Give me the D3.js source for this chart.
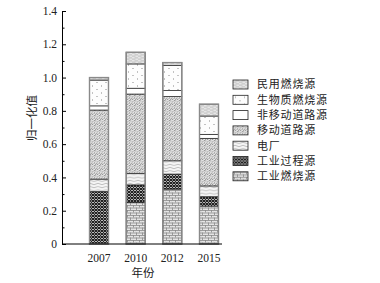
<!DOCTYPE html>
<html>
<head>
<meta charset="utf-8">
<script src="https://cdn.jsdelivr.net/npm/d3@7"></script>
<style>
  body { margin: 0; background: #fff; }
  svg { display: block; }
</style>
</head>
<body>
<div id="chart"></div>
<script>
const width = 380;
const height = 283;

// data
const years = ["2007", "2010", "2012", "2015"];
const sources = ["工业燃烧源", "工业过程源", "电厂", "移动道路源", "非移动道路源", "生物质燃烧源", "民用燃烧源"];
const industrialCombustion = [0, 0.25, 0.33, 0.228];
const industrialProcess = [0.315, 0.105, 0.09, 0.056];
const powerPlant = [0.075, 0.07, 0.08, 0.065];
const mobileRoad = [0.415, 0.476, 0.386, 0.286];
const nonRoad = [0.025, 0.035, 0.036, 0.024];
const biomass = [0.155, 0.146, 0.15, 0.11];
const residential = [0.015, 0.07, 0.018, 0.071];
const yTicks = [0, 0.2, 0.4, 0.6, 0.8, 1.0, 1.2, 1.4];

const series = [industrialCombustion, industrialProcess, powerPlant, mobileRoad, nonRoad, biomass, residential];
const table = years.map((y, i) => {
    const row = { year: y };
    sources.forEach((s, j) => row[s] = series[j][i]);
    return row;
});

const serif = "'Liberation Serif', 'DejaVu Serif', serif";
const cjk = "'Noto Sans CJK SC', sans-serif";

const svg = d3.select("#chart").append("svg")
    .attr("width", width)
    .attr("height", height)
    .attr("viewBox", [0, 0, width, height]);

// fill patterns
const defs = svg.append("defs");

function pattern(id, w, h, bg) {
    const p = defs.append("pattern")
        .attr("id", id)
        .attr("patternUnits", "userSpaceOnUse")
        .attr("width", w)
        .attr("height", h);
    p.append("rect").attr("width", w).attr("height", h).attr("fill", bg);
    return p;
}

// 工业燃烧源: light brick / cross grid
let p = pattern("p0", 6, 5, "#e6e6e6");
p.append("path").attr("d", "M0,0.5H6M0,3H6M1.5,0V2.5M4.5,2.5V5").attr("stroke", "#888").attr("stroke-width", 0.8);
p.append("path").attr("d", "M3,1.75h0.1M0,4h0.1").attr("stroke", "#666").attr("stroke-width", 1);

// 工业过程源: dark checker
p = pattern("p1", 3, 3, "#fff");
p.append("path").attr("d", "M0,0L3,3M3,0L0,3").attr("stroke", "#1a1a1a").attr("stroke-width", 1.2);

// 电厂: wavy lines
p = pattern("p2", 8, 3.2, "#f4f4f4");
p.append("path").attr("d", "M0,1.6Q2,0.4 4,1.6T8,1.6").attr("fill", "none").attr("stroke", "#9a9a9a").attr("stroke-width", 0.6);

// 移动道路源: dense stipple
p = pattern("p3", 5, 5, "#d6d6d6");
[[0.5, 0.5], [2.5, 1.5], [4, 0.2], [1.2, 2.8], [3.6, 3.2], [0.2, 4.3], [2.2, 4.2], [4.5, 2]].forEach(([x, y]) =>
    p.append("rect").attr("x", x).attr("y", y).attr("width", 0.8).attr("height", 0.8).attr("fill", "#777"));
[[1.6, 0.2], [3.2, 2.4], [0.6, 1.8], [4.2, 4.3]].forEach(([x, y]) =>
    p.append("rect").attr("x", x).attr("y", y).attr("width", 0.8).attr("height", 0.8).attr("fill", "#fff"));

// 非移动道路源: plain white
pattern("p4", 4, 4, "#fff");

// 生物质燃烧源: sparse dots
p = pattern("p5", 9, 7, "#fdfdfd");
p.append("rect").attr("x", 2).attr("y", 1.5).attr("width", 1).attr("height", 1).attr("fill", "#888");
p.append("rect").attr("x", 6.5).attr("y", 5).attr("width", 1).attr("height", 1).attr("fill", "#888");

// 民用燃烧源: gray with horizontal dashes
p = pattern("p6", 6, 3, "#cfcfcf");
p.append("path").attr("d", "M0,0.75H2.5M3.5,2.25H6").attr("stroke", "#f2f2f2").attr("stroke-width", 0.9);

const fills = sources.map((s, i) => `url(#p${i})`);

const x = d3.scaleBand()
    .domain(years)
    .range([62, 246])
    .paddingInner(0.482)
    .paddingOuter(0.75);

const y = d3.scaleLinear()
    .domain([0, 1.4])
    .range([244, 11]);

const stacked = d3.stack().keys(sources)(table);

const layer = svg.append("g")
    .selectAll("g")
    .data(stacked)
    .join("g")
    .attr("fill", (d, i) => fills[i]);

layer.selectAll("rect")
    .data(d => d.filter(v => v[1] - v[0] > 0))
    .join("rect")
    .attr("x", d => x(d.data.year))
    .attr("y", d => y(d[1]))
    .attr("width", x.bandwidth())
    .attr("height", d => y(d[0]) - y(d[1]))
    .attr("stroke", "#222")
    .attr("stroke-width", 0.7);

// bar outlines
svg.append("g")
    .selectAll("rect")
    .data(table)
    .join("rect")
    .attr("x", d => x(d.year))
    .attr("y", d => y(d3.sum(sources, s => d[s])))
    .attr("width", x.bandwidth())
    .attr("height", d => y(0) - y(d3.sum(sources, s => d[s])))
    .attr("fill", "none")
    .attr("stroke", "#8a8a8a")
    .attr("stroke-width", 1.4);

// y axis, ticks inward
const yAxis = svg.append("g")
    .attr("transform", "translate(62,0)")
    .call(d3.axisLeft(y)
        .tickValues(yTicks)
        .tickSizeInner(-4)
        .tickSizeOuter(0)
        .tickPadding(5)
        .tickFormat(d => d === 0 ? "0" : d3.format(".1f")(d)));
yAxis.selectAll("text")
    .attr("font-family", serif)
    .attr("font-size", 11.5)
    .attr("fill", "#222");
yAxis.selectAll("line, path").attr("stroke", "#000");

// minor ticks
svg.append("g")
    .attr("transform", "translate(62,0)")
    .call(d3.axisLeft(y)
        .tickValues(d3.range(1, 14, 2).map(v => v / 10))
        .tickSizeInner(-2.5)
        .tickSizeOuter(0)
        .tickFormat(""))
    .call(g => g.select(".domain").remove());

// x axis baseline
svg.append("line")
    .attr("x1", 62)
    .attr("x2", 222)
    .attr("y1", y(0))
    .attr("y2", y(0))
    .attr("stroke", "#000");

svg.append("g")
    .selectAll("text")
    .data(years)
    .join("text")
    .attr("x", d => x(d) + x.bandwidth() / 2)
    .attr("y", 262)
    .attr("text-anchor", "middle")
    .attr("font-family", serif)
    .attr("font-size", 11.5)
    .attr("fill", "#222")
    .text(d => d);

svg.append("text")
    .attr("x", 143)
    .attr("y", 277)
    .attr("text-anchor", "middle")
    .attr("font-family", cjk)
    .attr("font-size", 11.5)
    .attr("fill", "#222")
    .text("年份");

svg.append("text")
    .attr("transform", "translate(36,118) rotate(-90)")
    .attr("text-anchor", "middle")
    .attr("font-family", cjk)
    .attr("font-size", 11.5)
    .attr("fill", "#222")
    .text("归一化值");

// legend, top item is the top of the stack
const legendItems = sources.map((s, i) => ({ name: s, fill: fills[i] })).reverse();
const legend = svg.append("g")
    .selectAll("g")
    .data(legendItems)
    .join("g")
    .attr("transform", (d, i) => `translate(233,${80 + i * 15.3})`);

legend.append("rect")
    .attr("width", 15)
    .attr("height", 9)
    .attr("fill", d => d.fill)
    .attr("stroke", "#222")
    .attr("stroke-width", 0.8);

legend.append("text")
    .attr("x", 24)
    .attr("y", 4.5)
    .attr("dy", "0.36em")
    .attr("font-family", cjk)
    .attr("font-size", 11)
    .attr("letter-spacing", 0.8)
    .attr("fill", "#222")
    .text(d => d.name);
</script>
</body>
</html>
